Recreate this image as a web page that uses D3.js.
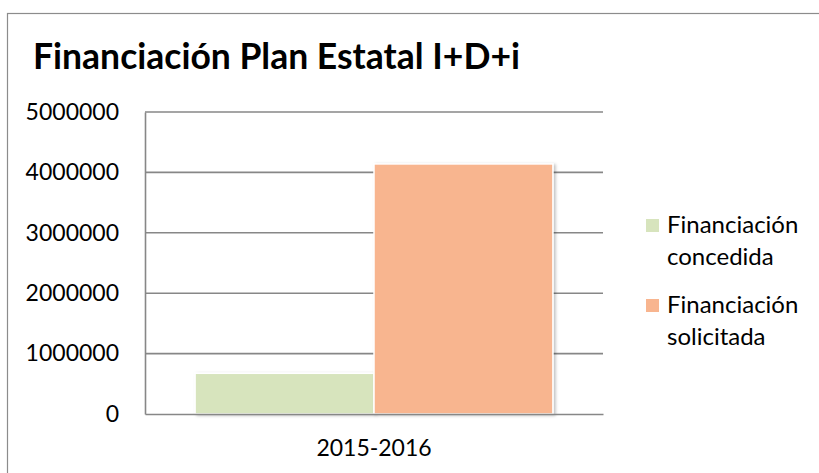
<!DOCTYPE html>
<html>
<head>
<meta charset="utf-8">
<script src="https://cdn.jsdelivr.net/npm/d3@7/dist/d3.min.js"></script>
<style>
  body { margin: 0; background: #fff; }
  svg { display: block; font-family: Lato, "Open Sans", sans-serif; }
</style>
</head>
<body>
<svg id="chart" width="819" height="473"></svg>
<script>
// Data
const categories = ['2015-2016'];
const seriesNames = ['Financiación concedida', 'Financiación solicitada'];
const seriesValues = [[674000], [4140000]];
const seriesColors = ['#d7e4bd', '#f8b58f'];
const yTicks = [0, 1000000, 2000000, 3000000, 4000000, 5000000];

const svg = d3.select('#chart');
const W = 819, H = 473;
const plot = { left: 145, right: 603, top: 112, bottom: 414 };

// outer border
svg.append('rect')
    .attr('x', 7.5).attr('y', 13.5)
    .attr('width', W).attr('height', H)
    .attr('fill', 'none').attr('stroke', '#8c8c8c').attr('stroke-width', 1.2);

// shadow for bars
const defs = svg.append('defs');
const f = defs.append('filter').attr('id', 'shadow')
    .attr('x', '-10%').attr('y', '-10%').attr('width', '130%').attr('height', '130%');
f.append('feDropShadow').attr('dx', 2).attr('dy', 1).attr('stdDeviation', 1.5)
    .attr('flood-color', '#000').attr('flood-opacity', 0.25);

// title
svg.append('text')
    .attr('x', 33).attr('y', 69)
    .attr('font-size', 35.5).attr('font-weight', 700).attr('fill', '#000')
    .text('Financiación Plan Estatal I+D+i');

// Scales
const y = d3.scaleLinear().domain([0, 5000000]).range([plot.bottom, plot.top]);
const x0 = d3.scaleBand().domain(categories).range([plot.left, plot.right])
    .paddingOuter(0.14).paddingInner(0);
const x1 = d3.scaleBand().domain(d3.range(seriesNames.length)).range([0, x0.bandwidth()]);

// gridlines
svg.append('g')
    .selectAll('line').data(yTicks.slice(1)).join('line')
    .attr('x1', plot.left).attr('x2', plot.right)
    .attr('y1', d => y(d)).attr('y2', d => y(d))
    .attr('stroke', '#878787').attr('stroke-width', 1.6);

// y axis
const yAxis = svg.append('g')
    .attr('transform', `translate(${plot.left},0)`)
    .call(d3.axisLeft(y).tickValues(yTicks).tickFormat(d3.format('d')).tickSize(0).tickPadding(26));
yAxis.select('.domain').attr('stroke', '#878787').attr('stroke-width', 1.6);
yAxis.selectAll('text').attr('font-size', 23).attr('fill', '#000')
    .attr('font-family', 'Lato, sans-serif');

// bars
const bars = svg.append('g');
categories.forEach((c, ci) => {
    seriesNames.forEach((s, si) => {
        const v = seriesValues[si][ci];
        bars.append('rect')
            .attr('x', x0(c) + x1(si))
            .attr('y', y(v))
            .attr('width', x1.bandwidth())
            .attr('height', y(0) - y(v))
            .attr('fill', seriesColors[si])
            .attr('stroke', '#fff').attr('stroke-width', 1.5)
            .attr('filter', 'url(#shadow)');
    });
});

// x axis
const xAxis = svg.append('g')
    .attr('transform', `translate(0,${plot.bottom})`)
    .call(d3.axisBottom(x0).tickSize(0).tickPadding(26));
xAxis.select('.domain').attr('stroke', '#878787').attr('stroke-width', 1.6);
xAxis.selectAll('text').attr('font-size', 23).attr('fill', '#000')
    .attr('font-family', 'Lato, sans-serif');

// legend
const legend = svg.append('g').attr('transform', 'translate(646,219)');
const legendLines = [['Financiación', 'concedida'], ['Financiación', 'solicitada']];
legendLines.forEach((lines, i) => {
    const g = legend.append('g').attr('transform', `translate(0,${i * 80})`);
    g.append('rect').attr('width', 13).attr('height', 13).attr('fill', seriesColors[i]);
    lines.forEach((t, li) => {
        g.append('text')
            .attr('x', 21).attr('y', 14 + li * 32)
            .attr('font-size', 24).attr('fill', '#000')
            .text(t);
    });
});
</script>
</body>
</html>
